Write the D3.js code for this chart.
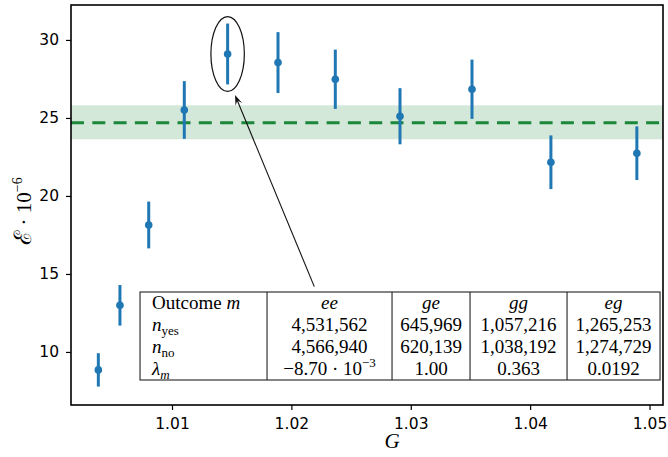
<!DOCTYPE html>
<html>
<head>
<meta charset="utf-8">
<script src="https://cdn.jsdelivr.net/npm/d3@7"></script>
<style>
  body { margin: 0; background: #fff; }
  .serif { font-family: "Liberation Serif", "DejaVu Serif", serif; }
</style>
</head>
<body>
<svg id="chart" width="668" height="457"></svg>
<script>
// measured points
let gValues = [1.00383, 1.00564, 1.00805, 1.01103, 1.01466, 1.01888, 1.02368, 1.02910, 1.03513, 1.04174, 1.04894];
let eValues = [8.85, 12.99, 18.14, 25.51, 29.10, 28.55, 27.48, 25.11, 26.84, 22.16, 22.74];
let eErrors = [1.07, 1.30, 1.50, 1.85, 1.95, 1.95, 1.90, 1.80, 1.90, 1.72, 1.72];

// weighted mean and its band
let meanValue = 24.70;
let bandLow = 23.63;
let bandHigh = 25.81;

let xTicks = [1.01, 1.02, 1.03, 1.04, 1.05];
let yTicks = [10, 15, 20, 25, 30];

// table contents
let outcomes = ["ee", "ge", "gg", "eg"];
let nYes = [4531562, 645969, 1057216, 1265253];
let nNo = [4566940, 620139, 1038192, 1274729];
let lambdaM = [-8.70e-3, 1.00, 0.363, 0.0192];

let highlight = 4;            // circled point
let arrowFrom = [1.02192, 14.19];

let W = 668, H = 457;
let pLeft = 71, pRight = 663, pTop = 5, pBottom = 405;

let svg = d3.select("#chart");

let x = d3.scaleLinear().domain([1.00154, 1.05113]).range([pLeft, pRight]);
let y = d3.scaleLinear().domain([6.60, 32.24]).range([pBottom, pTop]);

let points = gValues.map((g, i) => ({g: g, e: eValues[i], err: eErrors[i]}));

// band + dashed mean
svg.append("rect")
   .attr("x", pLeft).attr("width", pRight - pLeft)
   .attr("y", y(bandHigh)).attr("height", y(bandLow) - y(bandHigh))
   .attr("fill", "#d3e8d9");

svg.append("line")
   .attr("x1", pLeft).attr("x2", pRight)
   .attr("y1", y(meanValue)).attr("y2", y(meanValue))
   .attr("stroke", "#1b873b")
   .attr("stroke-width", 3)
   .attr("stroke-dasharray", "13,8.3");

// error bars
svg.selectAll(".err")
   .data(points)
   .enter()
   .append("line")
   .attr("class", "err")
   .attr("x1", d => x(d.g)).attr("x2", d => x(d.g))
   .attr("y1", d => y(d.e - d.err)).attr("y2", d => y(d.e + d.err))
   .attr("stroke", "#1f77b4")
   .attr("stroke-width", 3);

svg.selectAll(".dot")
   .data(points)
   .enter()
   .append("circle")
   .attr("class", "dot")
   .attr("cx", d => x(d.g))
   .attr("cy", d => y(d.e))
   .attr("r", 3.8)
   .attr("fill", "#1f77b4");

// ellipse round the highlighted point
let hp = points[highlight];
svg.append("ellipse")
   .attr("cx", x(hp.g)).attr("cy", y(hp.e))
   .attr("rx", x(hp.g + 0.0014) - x(hp.g))
   .attr("ry", y(hp.e - 2.4) - y(hp.e))
   .attr("fill", "none")
   .attr("stroke", "#111")
   .attr("stroke-width", 1.2);

// arrow
let tipG = hp.g + 0.00062, tipE = hp.e - 2.63;
let x0 = x(arrowFrom[0]), y0 = y(arrowFrom[1]), x1 = x(tipG), y1 = y(tipE);
let ang = Math.atan2(y1 - y0, x1 - x0);
svg.append("line")
   .attr("x1", x0).attr("y1", y0)
   .attr("x2", x1 - 3 * Math.cos(ang)).attr("y2", y1 - 3 * Math.sin(ang))
   .attr("stroke", "#111").attr("stroke-width", 1.1);
let hl = 10, hw = 3.6;
let bx = x1 - hl * Math.cos(ang), by = y1 - hl * Math.sin(ang);
svg.append("path")
   .attr("d", `M${x1},${y1} L${bx + hw * Math.sin(ang)},${by - hw * Math.cos(ang)} L${x1 - 0.6 * hl * Math.cos(ang)},${y1 - 0.6 * hl * Math.sin(ang)} L${bx - hw * Math.sin(ang)},${by + hw * Math.cos(ang)} Z`)
   .attr("fill", "#111");

// table
let tLeft = pLeft + 0.1166 * (pRight - pLeft);
let tRight = pLeft + 0.995 * (pRight - pLeft);
let tTop = pTop + 0.7175 * (pBottom - pTop);
let tBottom = pTop + 0.9375 * (pBottom - pTop);
let colShares = [127, 125, 78, 97, 93];
let colEdges = [tLeft];
let shareSum = d3.sum(colShares);
colShares.forEach(s => colEdges.push(colEdges[colEdges.length - 1] + s / shareSum * (tRight - tLeft)));
let rowH = (tBottom - tTop) / 4;

let tbl = svg.append("g").attr("class", "serif").style("font-size", "19px");
tbl.append("rect")
   .attr("x", tLeft).attr("y", tTop)
   .attr("width", tRight - tLeft).attr("height", tBottom - tTop)
   .attr("fill", "#fff").attr("stroke", "#222").attr("stroke-width", 1.1);
tbl.selectAll(".sep")
   .data(colEdges.slice(1, -1))
   .enter()
   .append("line")
   .attr("x1", d => d).attr("x2", d => d)
   .attr("y1", tTop).attr("y2", tBottom)
   .attr("stroke", "#222").attr("stroke-width", 1.1);

function rowY(r) { return tTop + rowH * (r + 0.5) + 6; }

// first column labels
let lab = tbl.append("g");
let t0 = lab.append("text").attr("x", tLeft + 12).attr("y", rowY(0));
t0.append("tspan").text("Outcome ");
t0.append("tspan").style("font-style", "italic").text("m");
let t1 = lab.append("text").attr("x", tLeft + 12).attr("y", rowY(1));
t1.append("tspan").style("font-style", "italic").text("n");
t1.append("tspan").attr("dy", 4).style("font-size", "13px").text("yes");
let t2 = lab.append("text").attr("x", tLeft + 12).attr("y", rowY(2));
t2.append("tspan").style("font-style", "italic").text("n");
t2.append("tspan").attr("dy", 4).style("font-size", "13px").text("no");
let t3 = lab.append("text").attr("x", tLeft + 12).attr("y", rowY(3));
t3.append("tspan").style("font-style", "italic").text("λ");
t3.append("tspan").attr("dy", 4).style("font-size", "13px").style("font-style", "italic").text("m");

let fmtInt = d3.format(",");
let colMid = i => (colEdges[i + 1] + colEdges[i + 2]) / 2;

tbl.selectAll(".oc").data(outcomes).enter().append("text")
   .attr("x", (d, i) => colMid(i)).attr("y", rowY(0))
   .attr("text-anchor", "middle").style("font-style", "italic").text(d => d);
tbl.selectAll(".ny").data(nYes).enter().append("text")
   .attr("x", (d, i) => colMid(i)).attr("y", rowY(1))
   .attr("text-anchor", "middle").text(d => fmtInt(d));
tbl.selectAll(".nn").data(nNo).enter().append("text")
   .attr("x", (d, i) => colMid(i)).attr("y", rowY(2))
   .attr("text-anchor", "middle").text(d => fmtInt(d));
tbl.selectAll(".lm").data(lambdaM).enter().append("text")
   .attr("x", (d, i) => colMid(i)).attr("y", rowY(3))
   .attr("text-anchor", "middle")
   .each(function(d) {
     let t = d3.select(this);
     if (Math.abs(d) < 0.01) {
       let exp = Math.floor(Math.log10(Math.abs(d)));
       let mant = d / Math.pow(10, exp);
       t.append("tspan").text(mant.toFixed(2).replace("-", "−") + " · 10");
       t.append("tspan").attr("dy", -8).style("font-size", "13px").text(String(exp).replace("-", "−"));
     } else {
       t.text(d === 1 ? d.toFixed(2) : String(d));
     }
   });

// axes
function styleAxis(g) {
  g.select(".domain").remove();
  g.selectAll(".tick line").attr("stroke-width", 1.2);
  g.selectAll(".tick text")
   .style("font-family", "'DejaVu Sans', sans-serif")
   .style("font-size", "15.5px")
   .attr("fill", "#000");
}

svg.append("g")
   .attr("transform", `translate(0,${pBottom})`)
   .call(d3.axisBottom(x).tickValues(xTicks).tickFormat(d3.format(".2f")).tickSize(5).tickPadding(8))
   .call(styleAxis);

svg.append("g")
   .attr("transform", `translate(${pLeft},0)`)
   .call(d3.axisLeft(y).tickValues(yTicks).tickSize(5).tickPadding(7))
   .call(styleAxis);

svg.append("rect")
   .attr("x", pLeft).attr("y", pTop)
   .attr("width", pRight - pLeft).attr("height", pBottom - pTop)
   .attr("fill", "none").attr("stroke", "#000").attr("stroke-width", 1.6);

// axis labels
svg.append("text")
   .attr("class", "serif")
   .attr("x", 392).attr("y", 448)
   .attr("text-anchor", "middle")
   .style("font-size", "21px").style("font-style", "italic")
   .text("G");

let yl = svg.append("text")
   .attr("class", "serif")
   .attr("transform", "translate(31,211) rotate(-90)")
   .attr("text-anchor", "middle")
   .style("font-size", "21px");
yl.append("tspan").style("font-size", "24px").text("ℰ");
yl.append("tspan").text(" · 10");
yl.append("tspan").attr("dy", -9).style("font-size", "14px").text("−6");
</script>
</body>
</html>
